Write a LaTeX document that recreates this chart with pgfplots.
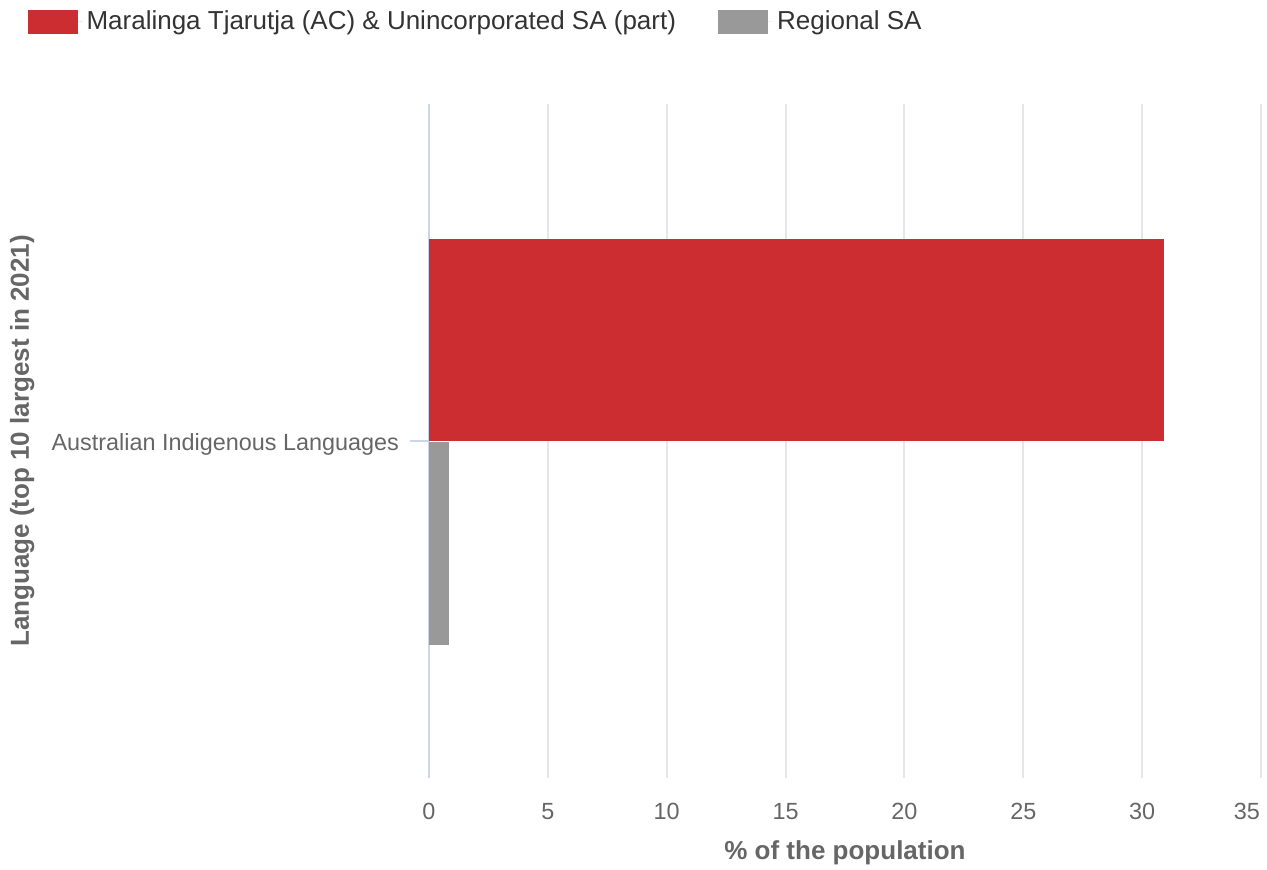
\documentclass[border=0pt]{standalone}
\usepackage{pgfplots}
\pgfplotsset{compat=1.18}
\usepackage{fontspec}
\setmainfont{Liberation Sans}
\definecolor{barred}{RGB}{204,45,48}
\definecolor{bargray}{RGB}{153,153,153}
\definecolor{gridcol}{RGB}{230,230,230}
\definecolor{axiscol}{RGB}{204,214,235}
\definecolor{labcol}{RGB}{102,102,102}
\definecolor{legcol}{RGB}{51,51,51}
\begin{document}
\begin{tikzpicture}
\path[use as bounding box] (-214.5pt,-46pt) rectangle (419pt,389pt);
\begin{axis}[
  at={(0,0)}, anchor=south west,
  width=416pt, height=337pt, scale only axis,
  xbar, bar width=0.3,
  xmin=0, xmax=35, ymin=-0.5, ymax=0.5,
  xtick={0,5,...,30}, ytick={0},
  extra x ticks={35},
  extra x tick style={xticklabel style={anchor=north east, xshift=3pt}},
  yticklabels={Australian Indigenous Languages},
  /pgf/number format/assume math mode=true,
  ticklabel style={font=\fontsize{11.7}{14}\selectfont, text=labcol},
  xticklabel style={yshift=-9pt},
  yticklabel style={xshift=-2pt, yshift=-1.5pt},
  xtick style={draw=none},
  ytick style={draw=axiscol, line width=1pt},
  ytick align=outside, major tick length=9.5pt,
  axis x line*=bottom, axis y line*=left,
  x axis line style={draw=none},
  y axis line style={-, draw=axiscol, line width=1pt},
  xmajorgrids, major x grid style={gridcol, line width=1pt},
  xlabel={\% of the population},
  ylabel={Language (top 10 largest in 2021)},
  label style={font=\bfseries\fontsize{13}{15}\selectfont, text=labcol},
  xlabel style={at={(0.5,-0.111)}, anchor=center},
  ylabel style={at={(-0.489,0.5)}, anchor=center},
  legend style={at={(-0.483,1.122)}, anchor=west, draw=none, fill=none,
    inner sep=0pt, font=\fontsize{13}{15}\selectfont, text=legcol,
    /tikz/every even column/.append style={column sep=19pt}},
  legend columns=2, legend cell align=left,
]
\addplot[fill=barred, draw=none, bar shift=0.15,
  legend image code/.code={\path (0pt,0pt) -- (27.5pt,0pt);
    \fill[barred] (0pt,-6pt) rectangle (25pt,6pt);}]
  coordinates {(30.9,0)};
\addlegendentry{Maralinga Tjarutja (AC) \& Unincorporated SA (part)}
\addplot[fill=bargray, draw=none, bar shift=-0.152,
  legend image code/.code={\path (0pt,0pt) -- (27.5pt,0pt);
    \fill[bargray] (0pt,-6pt) rectangle (25pt,6pt);}]
  coordinates {(0.84,0)};
\addlegendentry{Regional SA}
\end{axis}
\end{tikzpicture}
\end{document}
